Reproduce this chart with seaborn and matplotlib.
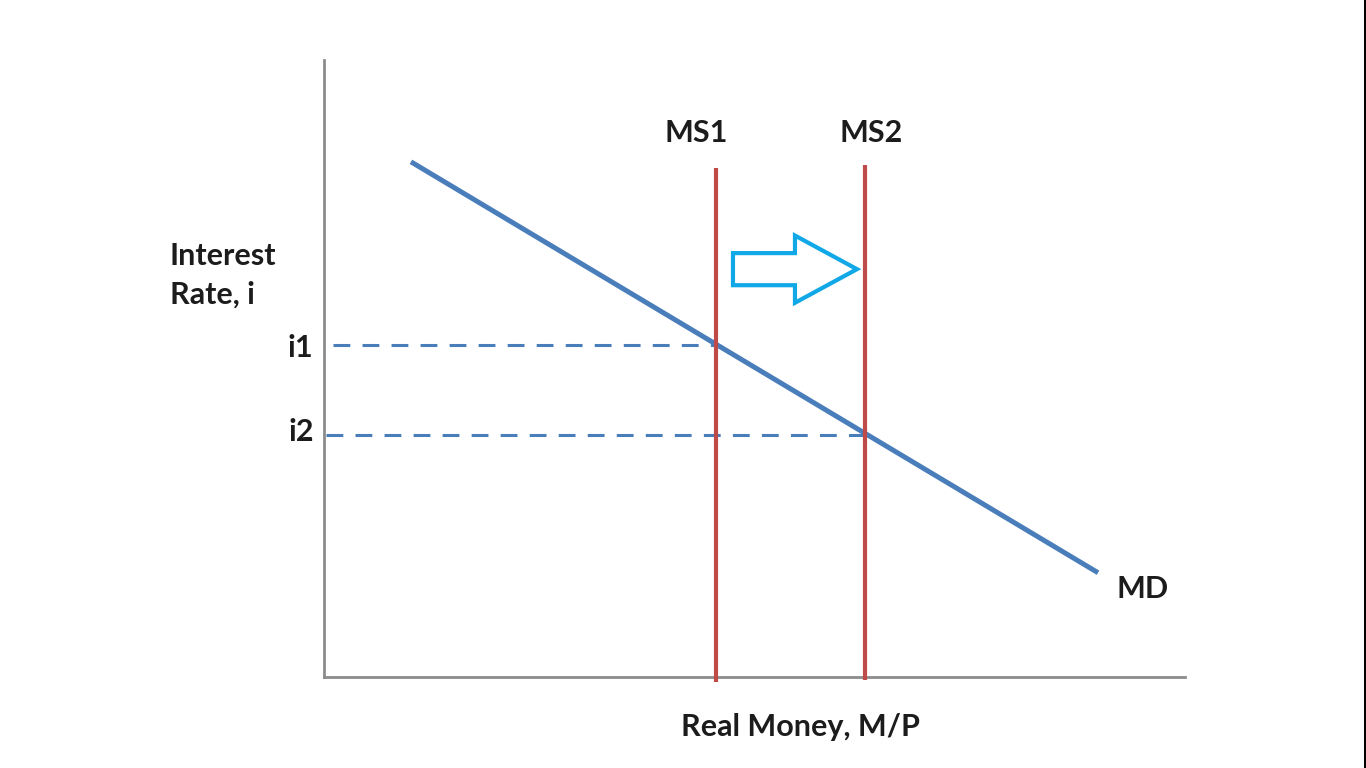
import numpy as np
import pandas as pd
import matplotlib
matplotlib.use("Agg")
import matplotlib.pyplot as plt
import matplotlib.transforms as mtransforms
import seaborn as sns
from matplotlib.patches import FancyArrow
from matplotlib.lines import Line2D

# datos del diagrama (unidades arbitrarias 0-100)
md_x = [10.1, 89.9]
md_y = [83.5, 16.9]
ms1_x = 45.5
ms2_x = 62.8
ms1_y = [-0.8, 82.5]
ms2_y = [-0.5, 83.0]
i1 = 53.8
i2 = 39.2
i1_x = [1.0, 45.5]
i2_x = [0.2, 62.8]
tick_vals = [i1, i2]
tick_labels = ["i1", "i2"]
shift_x = [47.5, 61.9]   # flecha: inicio y punta
shift_y = 66.1

blue = "#4a7ebb"
red = "#be4b48"
cyan = "#10a8e6"
gris = "#8c8c8c"

sns.set_style("white")
plt.rcParams['font.family'] = ['Lato', 'DejaVu Sans']

fig = plt.figure(figsize=(13.66, 7.68), dpi=100)
ax = fig.add_axes([324 / 1366, 1 - 677 / 768, 861 / 1366, 617 / 768])
ax.set_xlim(0, 100)
ax.set_ylim(0, 100)

md = pd.DataFrame({"x": md_x, "y": md_y})
sns.lineplot(data=md, x="x", y="y", ax=ax, color=blue, lw=3.6,
             solid_capstyle="butt")

# lineas punteadas i1, i2
for xs, yv in [(i1_x, i1), (i2_x, i2)]:
    d = pd.DataFrame({"x": xs, "y": [yv, yv]})
    sns.lineplot(data=d, x="x", y="y", ax=ax, color=blue, lw=2.2,
                 dashes=False, linestyle=(0, (5.5, 4)))

# oferta monetaria
ax.vlines([ms1_x], ms1_y[0], ms1_y[1], color=red, lw=3, clip_on=False, zorder=3)
ax.vlines([ms2_x], ms2_y[0], ms2_y[1], color=red, lw=3, clip_on=False, zorder=3)

# flecha de desplazamiento
arr = FancyArrow(shift_x[0], shift_y, shift_x[1] - shift_x[0], 0,
                 width=5.2, head_width=10.9, head_length=7.2,
                 length_includes_head=True, fill=False,
                 edgecolor=cyan, lw=3, joinstyle="miter")
ax.add_patch(arr)

# textos
kw = dict(fontsize=22, fontweight="bold", color="#1c1c1c")
ax.text(43.2, 88.2, "MS1", ha="center", va="center", **kw)
ax.text(63.5, 88.2, "MS2", ha="center", va="center", **kw)
ax.text(95.1, 14.3, "MD", ha="center", va="center", **kw)
fig.text(170 / 1366, 1 - 275 / 768, "Interest\nRate, i", ha="left",
         va="center", linespacing=1.45, **kw)
fig.text(800 / 1366, 1 - 727 / 768, "Real Money, M/P", ha="center",
         va="center", **kw)

ax.set_xticks([])
ax.set_yticks(tick_vals)
ax.set_yticklabels(tick_labels, fontsize=22, fontweight="bold", color="#1c1c1c")
ax.tick_params(axis="y", length=0, pad=8)
# i2 un poco mas arriba que su linea, como en el original
lbl = ax.get_yticklabels()[1]
lbl.set_transform(lbl.get_transform() +
                  mtransforms.ScaledTranslation(1 / 100, 6 / 100, fig.dpi_scale_trans))
ax.set_xlabel("")
ax.set_ylabel("")
sns.despine(ax=ax)
for s in ["left", "bottom"]:
    ax.spines[s].set_color(gris)
    ax.spines[s].set_linewidth(2)
ax.set_ylim(0, 100)

# borde derecho de la imagen
fig.add_artist(Line2D([1364.5 / 1366, 1364.5 / 1366], [0, 1], color="black",
                      lw=2.2, transform=fig.transFigure))

fig.savefig("out.png", dpi=100)
plt.close(fig)
